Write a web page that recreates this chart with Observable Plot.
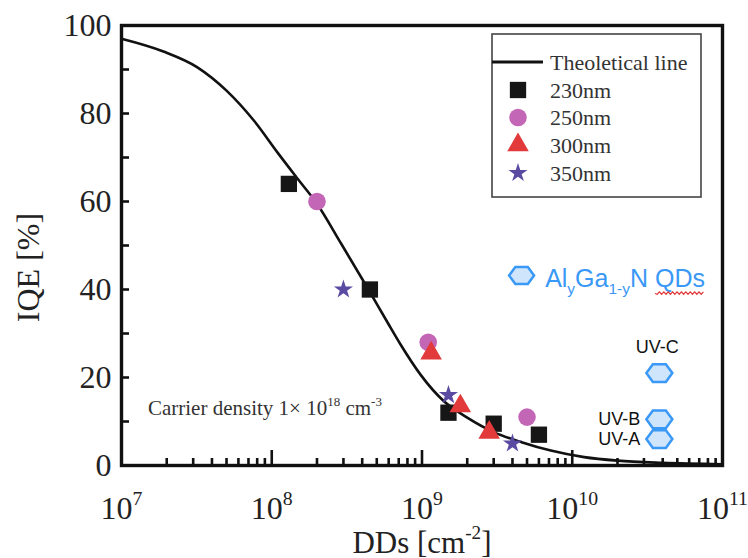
<!DOCTYPE html>
<html><head><meta charset="utf-8">
<script src="https://cdn.jsdelivr.net/npm/d3@7"></script>
<script src="https://cdn.jsdelivr.net/npm/@observablehq/plot@0.6"></script>
<style>
body{margin:0;background:#fff;}
#wrap{position:relative;width:748px;height:558px;overflow:hidden;}
#wrap svg{display:block;}
</style>
</head><body><div id="wrap"></div>
<script>
// ---- data ----
const theoDD  = [1.0e7, 1.9e7, 3.2e7, 5.0e7, 7.6e7, 1.1e8, 1.5e8, 2.0e8, 2.9e8, 4.4e8, 5.9e8, 7.2e8, 9.8e8, 1.4e9, 2.0e9, 3.0e9, 4.6e9, 7.2e9, 1.2e10, 2.0e10, 4.0e10, 1.0e11];
const theoIQE = [97.0, 94.1, 90.5, 85.2, 78.4, 71.0, 65.0, 59.5, 50.4, 40.0, 32.5, 27.5, 20.6, 14.6, 10.9, 7.6, 5.3, 3.4, 1.9, 1.1, 0.6, 0.3];

const dd230 = [1.3e8, 4.5e8, 1.5e9, 3.0e9, 6.0e9];
const iqe230 = [64, 40, 12, 9.5, 7];
const dd250 = [2.0e8, 1.1e9, 5.0e9];
const iqe250 = [60, 28, 11];
const dd300 = [1.15e9, 1.8e9, 2.8e9];
const iqe300 = [25.5, 13.5, 7.5];
const dd350 = [3.0e8, 1.5e9, 4.0e9];
const iqe350 = [40, 16, 5];

const uvNames = ["UV-C", "UV-B", "UV-A"];
const uvDD = [3.8e10, 3.8e10, 3.8e10];
const uvIQE = [21, 10.5, 6];

const seriesNames = ["230nm", "250nm", "300nm", "350nm"];
const seriesColors = ["#161616", "#c466b6", "#e23a3a", "#5a4aa2"];
const seriesSymbols = ["square", "circle", "triangle", "star"];
const seriesR = [9.2, 8.8, 8.0, 6.0];

const xMajorTicks = [1e7, 1e8, 1e9, 1e10, 1e11];
const xTickLabels = ["10^{7}", "10^{8}", "10^{9}", "10^{10}", "10^{11}"];
const yTicks = [0, 20, 40, 60, 80, 100];
const yTickLabels = ["0", "20", "40", "60", "80", "100"];
const yInnerTicks = [10, 20, 30, 40, 50, 60, 70, 80, 90];

const xTitle = "DDs [cm^{-2}]";
const yTitle = "IQE [%]";
const noteText = "Carrier density 1\u00d7 10^{18} cm^{-3}";
const qdText = "Al_{y}Ga_{1-y}N ~{QDs}";
const qdMarkerDD = [4.6e9], qdMarkerIQE = [43.2];
const noteDD = [1.5e7], noteIQE = [13];
const qdTextDD = [6.6e9], qdTextIQE = [42.4];

// ---- build tables ----
const theo = theoDD.map((d, i) => ({dd: d, iqe: theoIQE[i]}));
const mk = (dd, iqe) => dd.map((d, i) => ({dd: d, iqe: iqe[i]}));
const s230 = mk(dd230, iqe230), s250 = mk(dd250, iqe250), s300 = mk(dd300, iqe300), s350 = mk(dd350, iqe350);
const uv = uvNames.map((n, i) => ({name: n, dd: uvDD[i], iqe: uvIQE[i]}));
const xMinorTicks = [];
for (let e = 7; e < 11; e++) for (let m = 2; m <= 9; m++) xMinorTicks.push(m * Math.pow(10, e));

const hexFlat = {
  draw(ctx, size) {
    const r = Math.sqrt(size / Math.PI), w = r, h = r * 0.68;
    ctx.moveTo(-w, 0); ctx.lineTo(-w / 2, -h); ctx.lineTo(w / 2, -h);
    ctx.lineTo(w, 0); ctx.lineTo(w / 2, h); ctx.lineTo(-w / 2, h); ctx.closePath();
  }
};

const blue = "#3a98f6", hexFill = "#cfe5fb", squiggle = "#e23a3a";
const serif = "Liberation Serif";
const sans = "Liberation Sans";
const W = 748, H = 558, ML = 121, MR = 26, MT = 25, MB = 93;
const frameW = W - ML - MR, frameH = H - MT - MB;

const chart = Plot.plot({
  width: W, height: H,
  marginLeft: ML, marginRight: MR, marginTop: MT, marginBottom: MB,
  style: {fontFamily: serif, fontSize: "32px", color: "#222", background: "#fff", overflow: "visible"},
  x: {type: "log", domain: [1e7, 1e11]},
  y: {domain: [0, 100]},
  marks: [
    // inward ticks
    Plot.tickX(xMinorTicks, {x: d => d, insetTop: frameH - 7, stroke: "#111", strokeWidth: 2.6}),
    Plot.tickX(xMajorTicks, {x: d => d, insetTop: frameH - 15, stroke: "#111", strokeWidth: 2.6}),
    Plot.tickY(yInnerTicks, {y: d => d, insetRight: frameW - 8, stroke: "#111", strokeWidth: 2.6}),
    // labels
    Plot.axisX({ticks: xMajorTicks, tickSize: 0, tickPadding: 31, label: null, fontSize: 32,
      tickFormat: d => xTickLabels[xMajorTicks.indexOf(d)]}),
    Plot.axisY({ticks: yTicks, tickSize: 0, tickPadding: 10, label: null, fontSize: 32,
      tickFormat: d => yTickLabels[yTicks.indexOf(d)]}),
    Plot.text([xTitle], {frameAnchor: "bottom", textAnchor: "middle", lineAnchor: "bottom", dy: 87, fontSize: 31, fill: "#222"}),
    Plot.text([yTitle], {frameAnchor: "left", textAnchor: "middle", lineAnchor: "middle", dx: -93, dy: 22, rotate: -90, fontSize: 32, fill: "#222"}),
    // theory line
    Plot.line(theo, {x: "dd", y: "iqe", stroke: "#111", strokeWidth: 2.6, curve: "monotone-x"}),
    // data
    Plot.dot(s230, {x: "dd", y: "iqe", symbol: "square", r: seriesR[0], fill: seriesColors[0]}),
    Plot.dot(s250, {x: "dd", y: "iqe", symbol: "circle", r: seriesR[1], fill: seriesColors[1]}),
    Plot.dot(s300, {x: "dd", y: "iqe", symbol: "triangle", r: seriesR[2], fill: seriesColors[2]}),
    Plot.dot(s350, {x: "dd", y: "iqe", symbol: "star", r: seriesR[3], fill: seriesColors[3]}),
    // annotations
    Plot.text([noteText], {x: noteDD, y: noteIQE, textAnchor: "start", fontSize: 21, fill: "#333", fontFamily: serif}),
    Plot.dot(qdMarkerDD.map((d, i) => ({dd: d, iqe: qdMarkerIQE[i]})), {x: "dd", y: "iqe", symbol: hexFlat, r: 12.5, fill: hexFill, stroke: blue, strokeWidth: 2.5}),
    Plot.text([qdText], {x: qdTextDD, y: qdTextIQE, textAnchor: "start", fontSize: 25, fill: blue, fontFamily: sans}),
    Plot.dot(uv, {x: "dd", y: "iqe", symbol: hexFlat, r: 13, fill: hexFill, stroke: blue, strokeWidth: 2.5}),
    Plot.text(uv.filter(d => d.name === "UV-C"), {x: "dd", y: "iqe", text: "name", dx: -2, dy: -26, fontSize: 18, fill: "#111", fontFamily: sans}),
    Plot.text(uv.filter(d => d.name !== "UV-C"), {x: "dd", y: "iqe", text: "name", textAnchor: "end", dx: -19, fontSize: 18, fill: "#111", fontFamily: sans}),
    Plot.frame({stroke: "#111", strokeWidth: 3.4})
  ]
});

document.getElementById("wrap").appendChild(chart);

// rich text: ^{} superscript, _{} subscript, ~{} wavy red underline (spell-check squiggle)
const NS = "http://www.w3.org/2000/svg";
function richify(svg) {
  svg.querySelectorAll("text").forEach(t => {
    const s = t.textContent;
    if (!/[\^_~]\{/.test(s)) return;
    const fs = parseFloat(getComputedStyle(t).fontSize) || 16;
    const parts = s.split(/(\^\{[^}]*\}|_\{[^}]*\}|~\{[^}]*\})/).filter(p => p);
    while (t.firstChild) t.removeChild(t.firstChild);
    let shift = 0;
    const wavyParts = [];
    for (const p of parts) {
      const ts = document.createElementNS(NS, "tspan");
      let target = 0, txt = p, small = false, wavy = false;
      if (p.startsWith("^{")) { target = -0.45 * fs; txt = p.slice(2, -1); small = true; }
      else if (p.startsWith("_{")) { target = 0.3 * fs; txt = p.slice(2, -1); small = true; }
      else if (p.startsWith("~{")) { txt = p.slice(2, -1); wavy = true; }
      ts.setAttribute("dy", (target - shift).toFixed(2));
      shift = target;
      if (small) ts.setAttribute("font-size", (0.62 * fs).toFixed(1));
      ts.textContent = txt;
      t.appendChild(ts);
      if (wavy) wavyParts.push(ts);
    }
    wavyParts.forEach(ts => {
      const b = ts.getBBox();
      const y0 = b.y + b.height + 1.5, amp = 1.6, step = 2.2;
      let d = `M${b.x},${y0}`;
      let k = 0;
      for (let x = b.x + step; x <= b.x + b.width + 0.01; x += step, k++) {
        d += `L${x.toFixed(2)},${(y0 + (k % 2 === 0 ? amp : -amp) * 0.5 - amp * 0.5 + (k % 2 === 0 ? amp * 0.5 : 0)).toFixed(2)}`;
      }
      const path = document.createElementNS(NS, "path");
      path.setAttribute("d", d);
      path.setAttribute("fill", "none");
      path.setAttribute("stroke", squiggle);
      path.setAttribute("stroke-width", 1.2);
      if (t.getAttribute("transform")) path.setAttribute("transform", t.getAttribute("transform"));
      t.parentNode.appendChild(path);
    });
  });
}
richify(chart);

// legend box (inside plot, top right)
const lg = d3.select("#wrap").append("svg")
  .attr("width", W).attr("height", H)
  .style("position", "absolute").style("left", "0px").style("top", "0px");
const L = {x: 492, y: 34, w: 209, h: 163};
lg.append("rect").attr("x", L.x).attr("y", L.y).attr("width", L.w).attr("height", L.h)
  .attr("fill", "#fff").attr("stroke", "#444").attr("stroke-width", 1.6);
const rowY = [62, 90, 117.5, 145, 173];
lg.append("line").attr("x1", L.x).attr("x2", L.x + 51).attr("y1", rowY[0]).attr("y2", rowY[0])
  .attr("stroke", "#111").attr("stroke-width", 2.8);
const legendLabels = ["Theoletical line"].concat(seriesNames);
legendLabels.forEach((lab, i) => {
  lg.append("text").attr("x", L.x + 58).attr("y", rowY[i]).attr("dy", "0.35em")
    .attr("font-family", serif).attr("font-size", 22).attr("fill", "#333").text(lab);
});
const symMap = {square: d3.symbolSquare, circle: d3.symbolCircle, triangle: d3.symbolTriangle, star: d3.symbolStar};
seriesSymbols.forEach((s, i) => {
  lg.append("path").attr("transform", `translate(${L.x + 26},${rowY[i + 1]})`)
    .attr("d", d3.symbol(symMap[s], Math.PI * seriesR[i] * seriesR[i])())
    .attr("fill", seriesColors[i]);
});
</script>
</body></html>
